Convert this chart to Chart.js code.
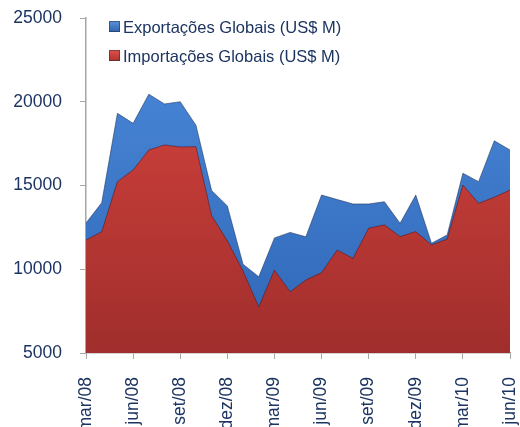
<!DOCTYPE html>
<html>
<head>
<meta charset="utf-8">
<script src="https://cdn.jsdelivr.net/npm/chart.js@4"></script>
<style>
html,body{margin:0;padding:0;background:#fff;overflow:hidden;}
#wrap{width:520px;height:440px;}
</style>
</head>
<body>
<div id="wrap"><canvas id="grafico"></canvas></div>
<script>
// dados
const meses = ["mar/08","abr/08","mai/08","jun/08","jul/08","ago/08","set/08","out/08","nov/08","dez/08",
"jan/09","fev/09","mar/09","abr/09","mai/09","jun/09","jul/09","ago/09","set/09","out/09","nov/09","dez/09",
"jan/10","fev/10","mar/10","abr/10","mai/10","jun/10"];
const exportacoes = [12760,13970,19310,18710,20450,19870,20000,18600,14700,13780,
10300,9550,11870,12200,11940,14430,14160,13900,13900,14030,12740,14430,
11550,12050,15730,15230,17670,17120];
const importacoes = [11750,12240,15230,15930,17120,17420,17300,17320,13200,11700,
9900,7750,9950,8660,9360,9800,11150,10650,12450,12650,11950,12250,
11450,11800,15030,13940,14300,14730];
const yTicks = [5000,10000,15000,20000,25000];

const navy = "#1c3461";
const cinza = "#a6a6a6";
const fonte = "Arial, 'Liberation Sans', sans-serif";

function grad(ctx, top, bottom){
const c = ctx.chart;
const a = c.chartArea;
if(!a) return top;
const g = c.ctx.createLinearGradient(0, a.top, 0, a.bottom);
g.addColorStop(0, top);
g.addColorStop(1, bottom);
return g;
}

function semPadding(s){
s.paddingTop = 0; s.paddingBottom = 0;
s.paddingLeft = 0; s.paddingRight = 0;
}

/* legenda desenhada */
const legenda = {
id:"legenda",
afterDraw(chart){
const ctx = chart.ctx;
const itens = [
{t:"Exportações Globais (US$ M)", c1:"#5a93dd", c2:"#2c5fa8", y:27},
{t:"Importações Globais (US$ M)", c1:"#e0534c", c2:"#a92f2b", y:56}
];
ctx.save();
ctx.font = "16.5px " + fonte;
ctx.textBaseline = "middle";
itens.forEach(it => {
const g = ctx.createLinearGradient(0, it.y-6, 0, it.y+6);
g.addColorStop(0, it.c1);
g.addColorStop(1, it.c2);
ctx.fillStyle = g;
ctx.fillRect(109, it.y-6, 11, 11);
ctx.strokeStyle = "rgba(40,40,60,0.5)";
ctx.lineWidth = 1;
ctx.strokeRect(109.5, it.y-5.5, 10, 10);
ctx.fillStyle = navy;
ctx.fillText(it.t, 123, it.y+1);
});
ctx.restore();
}
};

new Chart(document.getElementById("grafico"),{
type:"line",
data:{
labels:meses,
datasets:[{
label:"Exportações Globais (US$ M)",
data:exportacoes,
order:2,
fill:"start",
tension:0,
pointRadius:0,
borderWidth:1,
borderColor:"rgba(30,50,90,0.55)",
backgroundColor:ctx => grad(ctx, "#4d8bdc", "#2f66b6")
},{
label:"Importações Globais (US$ M)",
data:importacoes,
order:1,
fill:"start",
tension:0,
pointRadius:0,
borderWidth:1,
borderColor:"rgba(90,20,20,0.55)",
backgroundColor:ctx => grad(ctx, "#dc4640", "#a02e2c")
}]
},
options:{
responsive:true,
maintainAspectRatio:false,
animation:false,
layout:{padding:{top:18,right:10,left:0,bottom:0}},
plugins:{
legend:{display:false},
tooltip:{enabled:false}
},
scales:{
x:{
offset:false,
afterFit(s){ s.height = 87; semPadding(s); },
border:{display:true,color:cinza,width:1.5},
grid:{
drawOnChartArea:false,
drawTicks:true,
tickLength:6,
color:c => (c.index % 3 === 0 ? cinza : "rgba(0,0,0,0)")
},
ticks:{
autoSkip:false,
minRotation:90,
maxRotation:90,
padding:18,
color:navy,
font:{family:fonte,size:17.5},
callback:(v,i) => (i % 3 === 0 ? meses[i] : "")
}
},
y:{
min:5000,
max:25000,
afterFit(s){ s.width = 86; semPadding(s); },
afterBuildTicks(s){ s.ticks = yTicks.map(v => ({value:v})); },
border:{display:true,color:cinza,width:1.5},
grid:{drawOnChartArea:false,drawTicks:true,tickLength:6,color:cinza},
ticks:{
padding:18,
color:navy,
font:{family:fonte,size:17.5},
callback:v => String(v)
}
}
}
},
plugins:[legenda]
});
</script>
</body>
</html>
